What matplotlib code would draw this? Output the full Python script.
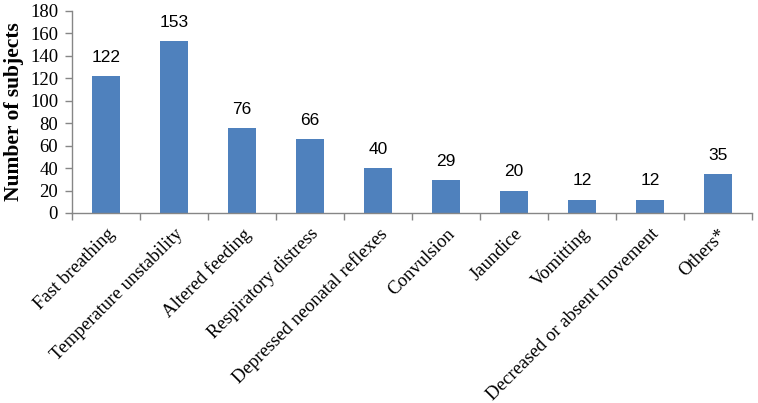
import matplotlib.pyplot as plt
import numpy as np

kategorien = [
    "Fast breathing",
    "Temperature unstability",
    "Altered feeding",
    "Respiratory distress",
    "Depressed neonatal reflexes",
    "Convulsion",
    "Jaundice",
    "Vomitting",
    "Decreased or absent movement",
    "Others*",
]
anzahl = [122, 153, 76, 66, 40, 29, 20, 12, 12, 35]
y_ticks = [0, 20, 40, 60, 80, 100, 120, 140, 160, 180]

serif = ["Liberation Serif", "DejaVu Serif"]
achsen_grau = "#868686"

fig = plt.figure(figsize=(7.58, 4.03), dpi=100)
ax = fig.add_axes([0.095, 0.4715, 0.897, 0.5015])

x = np.arange(len(kategorien))
bars = ax.bar(x, anzahl, width=0.4, color="#4F81BD")

# Werte ueber den Balken
for b, v in zip(bars, anzahl):
    ax.annotate(str(v), (b.get_x() + b.get_width() / 2, v),
                xytext=(0, 8), textcoords="offset points",
                ha="center", va="bottom", fontsize=12.5,
                family="Liberation Sans")

ax.set_xlim(-0.5, len(kategorien) - 0.5)
ax.set_ylim(0, 180)
ax.set_yticks(y_ticks)
ax.set_yticklabels([str(t) for t in y_ticks], family=serif, fontsize=13.5)

# Kategorien-Beschriftung an den Balkenmitten, Ticks an den Grenzen
ax.set_xticks(x)
ax.set_xticklabels(kategorien, rotation=45, ha="right", rotation_mode="anchor",
                   family=serif, fontsize=13.5)
ax.tick_params(axis="x", length=0, pad=9)
ax.set_xticks(np.arange(len(kategorien) + 1) - 0.5, minor=True)
ax.tick_params(axis="x", which="minor", length=5, color=achsen_grau, width=1)
ax.tick_params(axis="y", length=5, color=achsen_grau, width=1, pad=5)

ax.set_ylabel("Number of subjects", family=serif, fontsize=15.5,
              fontweight="bold", labelpad=4)

for s in ["top", "right"]:
    ax.spines[s].set_visible(False)
for s in ["left", "bottom"]:
    ax.spines[s].set_color(achsen_grau)
    ax.spines[s].set_linewidth(1)

fig.savefig("out.png", dpi=100)
